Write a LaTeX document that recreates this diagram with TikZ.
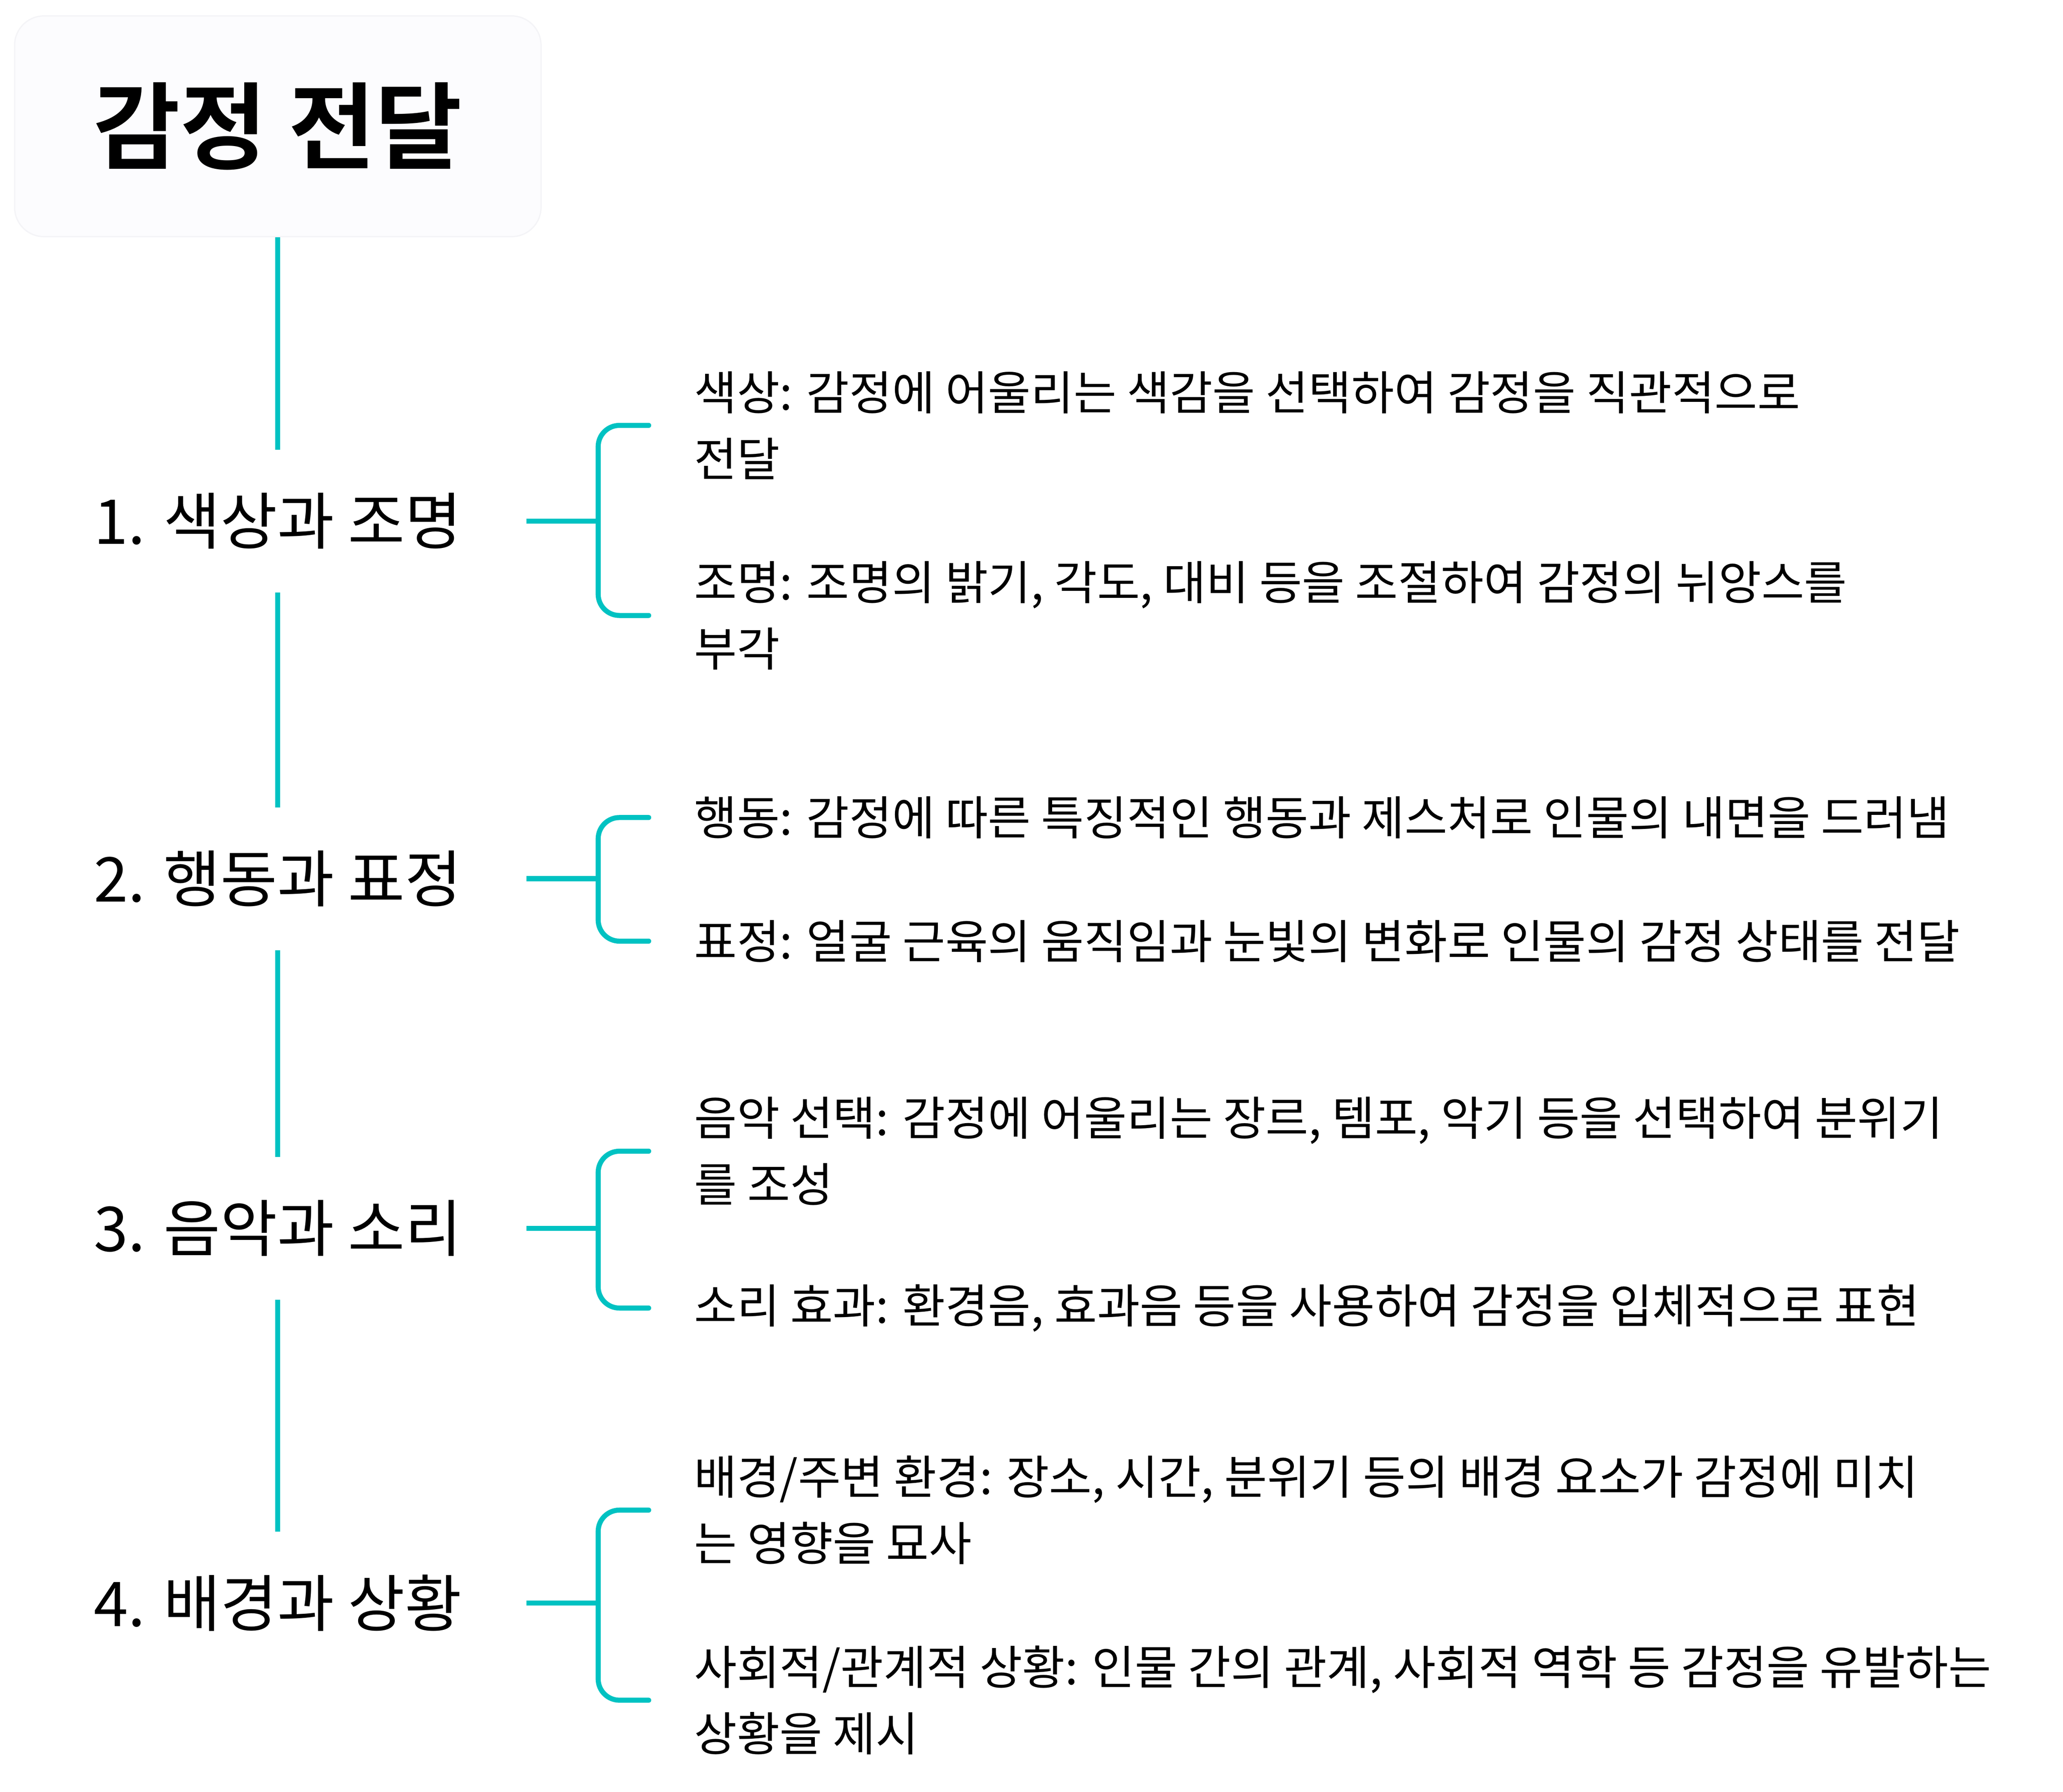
\documentclass[tikz,border=0pt]{standalone}
\usepackage{fontspec}
\usepackage{tikz}
\usetikzlibrary{calc}
\newfontfamily\krfont{Noto Sans CJK KR}[BoldFont={Noto Sans CJK KR Bold}]
\definecolor{teal}{HTML}{00C2C2}
\definecolor{boxfill}{HTML}{FCFCFE}
\definecolor{boxline}{HTML}{F4F4F7}
\tikzset{
	titlebox/.style={draw=boxline, fill=boxfill, rounded corners=22pt, line width=1pt, minimum width=396pt, minimum height=166pt, font=\krfont\bfseries\fontsize{71}{78}\selectfont},
	catbox/.style={minimum width=374pt, minimum height=107pt, inner sep=0pt, font=\krfont\fontsize{46.5}{52}\selectfont},
	itembox/.style={anchor=west, inner sep=0pt, align=left, font=\krfont\fontsize{35}{50}\selectfont},
	link/.style={draw=teal, line width=3.8pt},
	brace/.style={draw=teal, line width=3.8pt, rounded corners=16pt, line cap=round}
}
\begin{document}
\begin{tikzpicture}[x=1pt,y=-1pt]
			%%%%% START %%%%%
			\useasboundingbox (0, 0) rectangle (1552, 1348);
			
			\node[titlebox] (title) at (209, 95) {감정 전달};
			
			\node[catbox] (c1) at (209, 392) {1. 색상과 조명};
			\node[catbox] (c2) at (209, 661) {2. 행동과 표정};
			\node[catbox] (c3) at (209, 924) {3. 음악과 소리};
			\node[catbox] (c4) at (209, 1206) {4. 배경과 상황};
			
			\draw[link] (title) -- (c1);
			\draw[link] (c1) -- (c2);
			\draw[link] (c2) -- (c3);
			\draw[link] (c3) -- (c4);
			
			\node[itembox] (t1a) at (522, 320) {색상: 감정에 어울리는 색감을 선택하여 감정을 직관적으로\\전달};
			\node[itembox] (t1b) at (522, 463) {조명: 조명의 밝기, 각도, 대비 등을 조절하여 감정의 뉘앙스를\\부각};
			\node[itembox] (t2a) at (522, 615) {행동: 감정에 따른 특징적인 행동과 제스처로 인물의 내면을 드러냄};
			\node[itembox] (t2b) at (522, 708) {표정: 얼굴 근육의 움직임과 눈빛의 변화로 인물의 감정 상태를 전달};
			\node[itembox] (t3a) at (522, 866) {음악 선택: 감정에 어울리는 장르, 템포, 악기 등을 선택하여 분위기\\를 조성};
			\node[itembox] (t3b) at (522, 984) {소리 효과: 환경음, 효과음 등을 사용하여 감정을 입체적으로 표현};
			\node[itembox] (t4a) at (522, 1136) {배경/주변 환경: 장소, 시간, 분위기 등의 배경 요소가 감정에 미치\\는 영향을 묘사};
			\node[itembox] (t4b) at (522, 1279) {사회적/관계적 상황: 인물 간의 관계, 사회적 역학 등 감정을 유발하는\\상황을 제시};
			
			\draw[link] (c1.east) -- ++(54, 0);
			\draw[brace] ([xshift=-34pt]t1a.west) -- ([xshift=-72pt]t1a.west) -- ([xshift=-72pt]t1b.west) -- ([xshift=-34pt]t1b.west);
			
			\draw[link] (c2.east) -- ++(54, 0);
			\draw[brace] ([xshift=-34pt]t2a.west) -- ([xshift=-72pt]t2a.west) -- ([xshift=-72pt]t2b.west) -- ([xshift=-34pt]t2b.west);
			
			\draw[link] (c3.east) -- ++(54, 0);
			\draw[brace] ([xshift=-34pt]t3a.west) -- ([xshift=-72pt]t3a.west) -- ([xshift=-72pt]t3b.west) -- ([xshift=-34pt]t3b.west);
			
			\draw[link] (c4.east) -- ++(54, 0);
			\draw[brace] ([xshift=-34pt]t4a.west) -- ([xshift=-72pt]t4a.west) -- ([xshift=-72pt]t4b.west) -- ([xshift=-34pt]t4b.west);
			
			%%%%% END %%%%%
\end{tikzpicture}
\end{document}
